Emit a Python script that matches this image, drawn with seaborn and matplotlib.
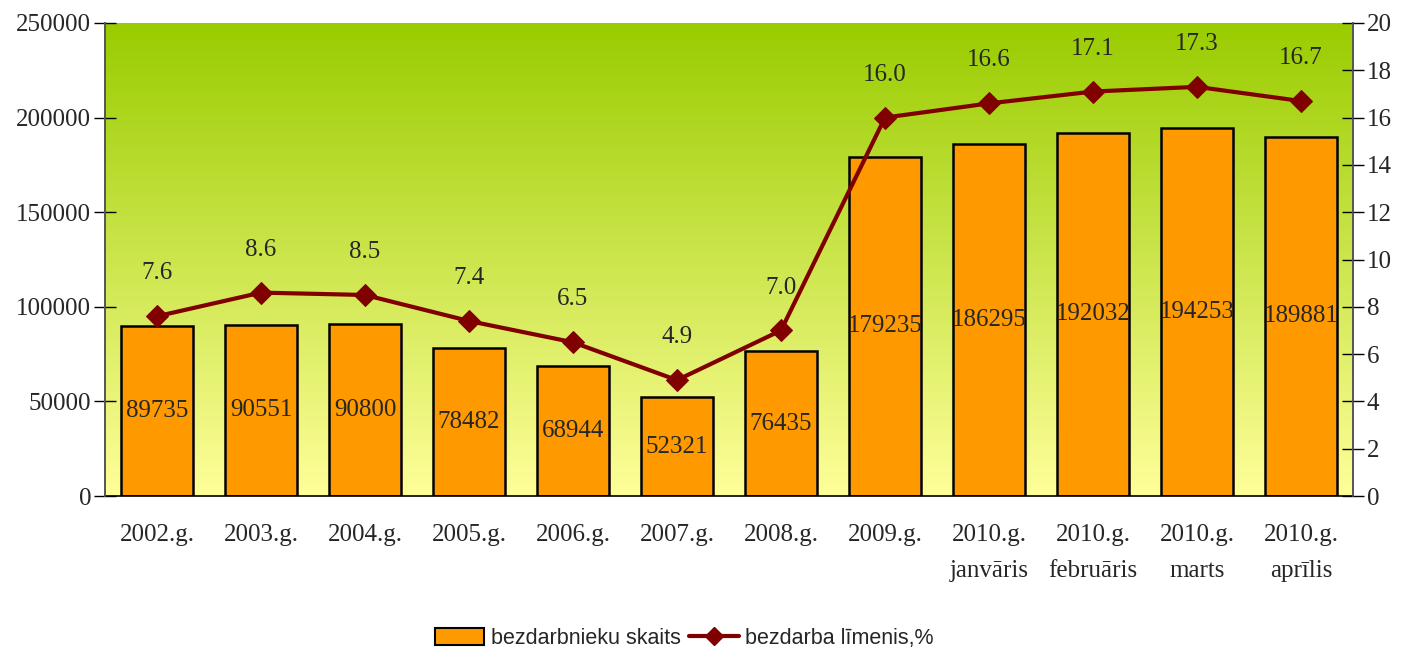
import numpy as np
import matplotlib.pyplot as plt
import pandas as pd
import seaborn as sns
from matplotlib.colors import LinearSegmentedColormap
from matplotlib.patches import Patch
from matplotlib.lines import Line2D

# data
periods = ['2002.g.', '2003.g.', '2004.g.', '2005.g.', '2006.g.', '2007.g.', '2008.g.',
           '2009.g.', '2010.g.\njanvāris', '2010.g.\nfebruāris', '2010.g.\nmarts', '2010.g.\naprīlis']
unemployed = [89735, 90551, 90800, 78482, 68944, 52321, 76435,
              179235, 186295, 192032, 194253, 189881]
rate = [7.6, 8.6, 8.5, 7.4, 6.5, 4.9, 7.0, 16.0, 16.6, 17.1, 17.3, 16.7]

df = pd.DataFrame({'period': periods, 'count': unemployed, 'rate': rate})
df['pos'] = np.arange(len(df))

sns.set_style('white')
plt.rcParams['font.family'] = ['Liberation Serif', 'DejaVu Serif']
fs = 18

fig = plt.figure(figsize=(14.02, 6.49), dpi=100)
ax = fig.add_axes([0.0749, 0.2357, 0.8901, 0.7289])

# gradient background: green on top, pale yellow at the bottom
cmap = LinearSegmentedColormap.from_list('bg', ['#ffff99', '#99cc00'])
grad = np.linspace(0, 1, 256).reshape(-1, 1)
ax.imshow(grad, aspect='auto', cmap=cmap, origin='lower',
          extent=[-0.5, 11.5, 0, 250000], zorder=0)

sns.barplot(data=df, x='period', y='count', color='#ff9900', saturation=1,
            edgecolor='black', linewidth=1.8, width=0.69, ax=ax, zorder=2)
ax.set_xlim(-0.5, 11.5)
ax.set_ylim(0, 250000)
ax.set_yticks(np.arange(0, 250001, 50000))
ax.set_xlabel('')
ax.set_ylabel('')
for i, v in enumerate(unemployed):
    ax.text(i, v / 2, str(v), ha='center', va='center', fontsize=fs, zorder=5)

ax2 = ax.twinx()
sns.lineplot(data=df, x='pos', y='rate', color='#800000', linewidth=3,
             marker='D', markersize=11, markeredgecolor='#800000', ax=ax2, zorder=4)
ax2.set_ylim(0, 20)
ax2.set_yticks(np.arange(0, 21, 2))
ax2.set_xlim(-0.5, 11.5)
ax2.set_ylabel('')
ax2.set_xlabel('')
for i, r in enumerate(rate):
    ax2.annotate(f'{r:.1f}', (i, r), xytext=(0, 23), textcoords='offset points',
                 ha='center', va='bottom', fontsize=fs)

# x ticks at category boundaries
ax.set_xticks(np.arange(len(periods)))
ax.set_xticklabels(periods, fontsize=fs, linespacing=1.85)
ax.set_xticks(np.arange(-0.5, 12, 1), minor=True)
ax.tick_params(axis='x', which='major', length=0, pad=20)
ax.tick_params(axis='x', which='minor', length=9, width=1, color='black', direction='out')
ax.tick_params(axis='y', length=16, width=1, direction='inout', labelsize=fs, pad=2, color='black')
ax2.tick_params(axis='y', length=16, width=1, direction='inout', labelsize=fs, pad=2, color='black')

for a in (ax, ax2):
    a.spines['top'].set_visible(False)
    a.spines['left'].set_color('#555555')
    a.spines['right'].set_color('#555555')
    a.spines['bottom'].set_color('black')
    for s in a.spines.values():
        s.set_linewidth(1.2)
ax2.spines['bottom'].set_visible(False)

handles = [Patch(facecolor='#ff9900', edgecolor='black', linewidth=1.5),
           Line2D([], [], color='#800000', linewidth=3, marker='D', markersize=9)]
fig.legend(handles, ['bezdarbnieku skaits', 'bezdarba līmenis,%'], loc='lower center',
           bbox_to_anchor=(0.488, -0.03), ncol=2, frameon=False, handlelength=2.3,
           handleheight=0.8, columnspacing=0.4, handletextpad=0.3,
           prop={'family': 'Liberation Sans', 'size': 15.5})

fig.savefig('out.png', dpi=100)
